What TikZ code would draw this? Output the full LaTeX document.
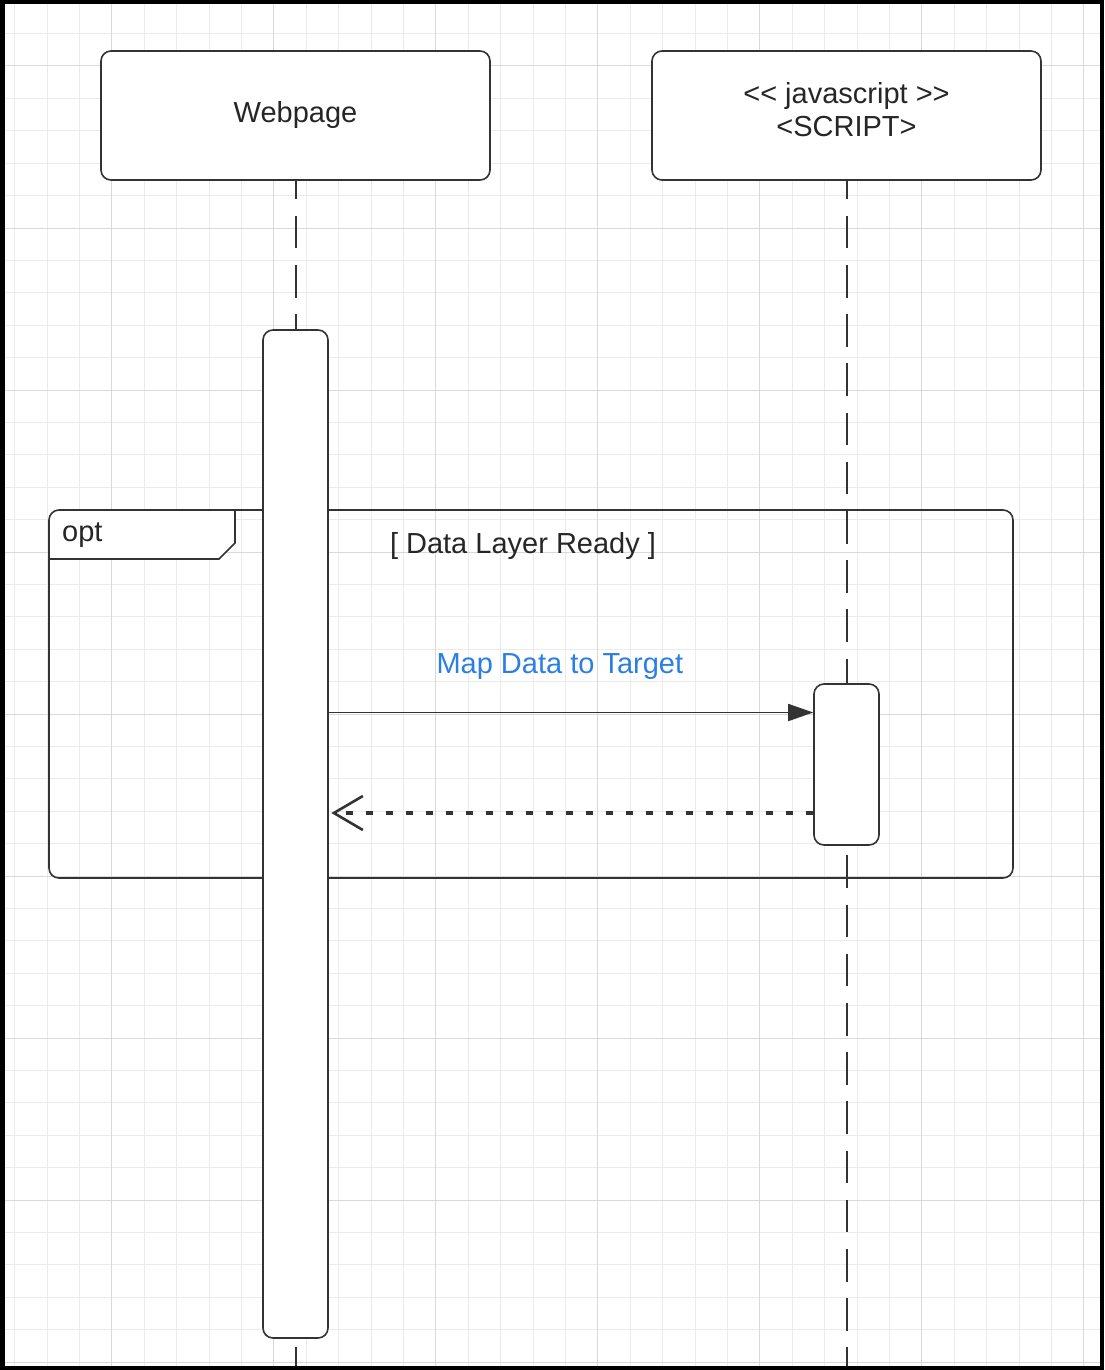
\documentclass[tikz,border=0pt]{standalone}
\usepackage{fontspec}
\newfontfamily\uifont{Liberation Sans}
\usepackage{xcolor}
\usepackage{tikz}
\usetikzlibrary{calc, positioning, arrows.meta}
\definecolor{ink}{HTML}{333333}
\definecolor{gridminor}{HTML}{EBEBEB}
\definecolor{gridmajor}{HTML}{D9D9D9}
\definecolor{msgblue}{HTML}{2B7FE3}

\begin{document}
\begin{tikzpicture}[x=1pt, y=-1pt,
    txt/.style={font=\uifont\fontsize{29}{33.4}\selectfont, text=black!85, inner sep=0pt},
    lifebox/.style={txt, draw=ink, line width=1.6pt, fill=white, rounded corners=10pt, minimum width=389pt, minimum height=129pt, align=center},
    actbar/.style={draw=ink, line width=1.6pt, fill=white, rounded corners=10pt, minimum width=65pt, inner sep=0pt},
    lifeline/.style={draw=ink, line width=1.7pt, dash pattern=on 32.5pt off 16.7pt, dash phase=14.2pt},
    optframe/.style={draw=ink, line width=1.6pt, rounded corners=10pt, minimum width=964pt, minimum height=368pt, inner sep=0pt},
    callline/.style={draw=ink, line width=1.8pt, -{Triangle[length=25pt, width=17pt]}},
    returnline/.style={draw=ink, line width=3.2pt, dash pattern=on 7pt off 13pt, shorten >=2.5pt, -{Straight Barb[length=29pt, width=34pt, line width=2.6pt]}}]
    \useasboundingbox (0,0) rectangle (1104,1370);
    \foreach \k in {0,...,33} \draw[gridminor, line width=1pt] ({14.6+32.4*\k},0) -- ++(0,1370);
    \foreach \k in {0,...,42} \draw[gridminor, line width=1pt] (0,{1.2+32.4*\k}) -- ++(1104,0);
    \foreach \k in {0,...,6} \draw[gridmajor, line width=1pt] ({111.8+162*\k},0) -- ++(0,1370);
    \foreach \k in {0,...,8} \draw[gridmajor, line width=1pt] (0,{66+162*\k}) -- ++(1104,0);
    \node[lifebox] (webpage) at (295.5,115.5) {Webpage};
    \node[lifebox, text depth=11.8pt] (script) at (846.5,115.5) {<< javascript >>\\<SCRIPT>};
    \coordinate (wpend) at (296,1370);
    \coordinate (jsend) at (847,1370);
    \draw[lifeline] (webpage.south -| wpend) -- (wpend);
    \draw[lifeline] (script.south -| jsend) -- (jsend);
    \fill[white] (49,559) [rounded corners=10pt] -- (49,510) [sharp corners] -- (235,510) -- (235,543) -- (219,559) -- cycle;
    \node[optframe] (opt) at (531,694) {};
    \draw[ink, line width=1.6pt] (235,510) -- (235,543) -- (219,559) -- (49,559);
    \node[txt, anchor=base west] (optlabel) at (62,541) {opt};
    \node[txt, anchor=base] (guard) at (523,553) {[ Data Layer Ready ]};
    \node[actbar, minimum height=1008pt] (wpact) at (295.5,834) {};
    \node[actbar, minimum height=161pt] (jsact) at (846.5,764.5) {};
    \coordinate (callrow) at (571,712.5);
    \coordinate (backrow) at (571,813);
    \draw[callline] (wpact.east |- callrow) -- node[txt, text=msgblue, anchor=base, pos=0.477, yshift=39.2pt] (calllabel) {Map Data to Target} (jsact.west |- callrow);
    \draw[returnline] (jsact.west |- backrow) -- (wpact.east |- backrow);
    \draw[black, line width=4.5pt] (2.25,2.25) rectangle (1101.75,1367.75);
\end{tikzpicture}
\end{document}
